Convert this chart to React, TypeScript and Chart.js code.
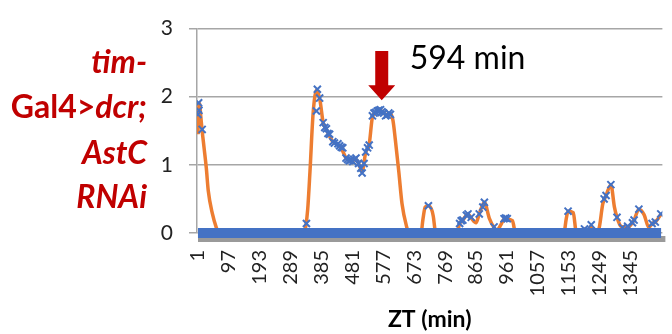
import React, { useEffect, useRef } from "react";
import { Chart, registerables } from "chart.js";

Chart.register(...registerables);

// ZT minutes for the x-axis tick labels
const xTickLabels = [1, 97, 193, 289, 385, 481, 577, 673, 769, 865, 961, 1057, 1153, 1249, 1345];
const yTickLabels = [0, 1, 2, 3];

// Smoothed activity/sleep curve (orange)
const curveMinutes = [
  1, 3, 6, 10, 14, 20, 27, 33, 46, 58, 66,
  330, 336, 342, 349, 359, 370, 380, 390, 400, 410, 420, 436, 446, 461, 476, 492, 502, 511, 522, 533, 543, 553, 568, 584, 599, 607, 614, 625, 635, 650, 656,
  694, 700, 707, 717, 728, 732, 740,
  806, 814, 824, 840, 850, 865, 875, 891, 906, 921, 930, 942, 952, 962, 978, 988,
  1138, 1145, 1151, 1167, 1177,
  1190, 1202, 1213, 1223, 1235, 1246, 1259, 1269, 1284, 1295, 1303, 1315, 1336, 1356, 1371, 1387, 1402, 1412, 1422, 1440,
];
const curveValues = [
  1.45, 1.8, 1.9, 1.7, 1.5, 1.25, 0.95, 0.62, 0.28, 0.08, 0,
  0, 0.1, 0.35, 0.9, 1.77, 2.1, 1.95, 1.62, 1.52, 1.42, 1.34, 1.3, 1.25, 1.1, 1.06, 1.08, 1.0, 0.9, 1.18, 1.3, 1.7, 1.77, 1.8, 1.74, 1.75, 1.65, 1.38, 0.9, 0.43, 0.08, 0,
  0, 0.2, 0.38, 0.4, 0.33, 0.25, 0,
  0, 0.14, 0.19, 0.28, 0.22, 0.15, 0.28, 0.45, 0.22, 0.08, 0.04, 0.12, 0.2, 0.2, 0.18, 0,
  0, 0.2, 0.32, 0.3, 0,
  0, 0.06, 0.04, 0.1, 0.02, 0.05, 0.43, 0.55, 0.71, 0.38, 0.23, 0.1, 0.08, 0.19, 0.35, 0.27, 0.08, 0.14, 0.16, 0.28,
];

// Individual (non-zero) data points shown as blue crosses
const markerMinutes = [
  1, 3, 4, 14, 338, 369, 372, 379, 390, 395, 400, 405, 410, 420, 425, 436, 441, 446, 451, 461, 466, 471, 476, 482, 487, 492, 500, 507, 511, 517, 522, 528, 533,
  543, 548, 553, 558, 563, 568, 573, 578, 584, 589, 594, 599,
  717, 814, 819, 824, 835, 840, 850, 875, 886, 891, 921, 952, 957, 962,
  1151, 1202, 1223, 1263, 1269, 1284, 1303, 1320, 1336, 1351, 1356, 1371, 1412, 1422, 1439,
];
const markerValues = [
  1.74, 1.91, 1.8, 1.52, 0.14, 1.79, 2.11, 1.98, 1.62, 1.55, 1.53, 1.46, 1.45, 1.34, 1.32, 1.31, 1.28, 1.26, 1.25, 1.1, 1.08, 1.06, 1.07, 1.05, 1.08, 1.1, 1.02, 0.95, 0.88, 1.02, 1.19, 1.25, 1.29,
  1.72, 1.76, 1.77, 1.79, 1.8, 1.81, 1.78, 1.76, 1.72, 1.73, 1.76, 1.74,
  0.4, 0.14, 0.18, 0.19, 0.26, 0.28, 0.23, 0.28, 0.38, 0.45, 0.09, 0.21, 0.22, 0.21,
  0.32, 0.06, 0.12, 0.5, 0.55, 0.71, 0.23, 0.08, 0.1, 0.15, 0.19, 0.35, 0.14, 0.16, 0.28,
];

// Zero-valued points form the band along the axis
const zeroBandMinutes = [1, 1440];
const zeroBandValues = [0, 0];

// Annotation
const arrowMinute = 572;
const arrowTopValue = 2.67;
const arrowTipValue = 1.95;
const annotationText = "594 min";

const RED = "#c00000";
const BLUE = "#4472c4";
const ORANGE = "#ed7d31";
const FONT = "Lato, 'Open Sans', sans-serif";

const sidePlugin = {
  id: "sideDecor",
  beforeDatasetsDraw(chart: any) {
    const { ctx, chartArea, scales } = chart;
    const y0 = scales.y.getPixelForValue(0);
    ctx.save();
    ctx.fillStyle = "#9a9a9a";
    ctx.fillRect(chartArea.left + 1, y0 + 3, chartArea.right - chartArea.left + 2, 6);
    ctx.restore();
  },
  afterDraw(chart: any) {
    const { ctx, scales } = chart;
    ctx.save();
    // Arrow
    const ax = scales.x.getPixelForValue(arrowMinute);
    const top = scales.y.getPixelForValue(arrowTopValue);
    const tip = scales.y.getPixelForValue(arrowTipValue);
    const headH = 15;
    ctx.fillStyle = RED;
    ctx.beginPath();
    ctx.moveTo(ax - 6.5, top);
    ctx.lineTo(ax + 6.5, top);
    ctx.lineTo(ax + 6.5, tip - headH);
    ctx.lineTo(ax + 13.5, tip - headH);
    ctx.lineTo(ax, tip);
    ctx.lineTo(ax - 13.5, tip - headH);
    ctx.lineTo(ax - 6.5, tip - headH);
    ctx.closePath();
    ctx.fill();
    // Annotation text
    ctx.fillStyle = "#000";
    ctx.font = `32px ${FONT}`;
    ctx.textBaseline = "middle";
    ctx.textAlign = "left";
    ctx.fillText(annotationText, ax + 28, top + 8);

    // Red side label (mixed italic)
    const lines: [string, boolean][][] = [
      [["tim-", true]],
      [["Gal4>", false], ["dcr;", true]],
      [["AstC", true]],
      [["RNAi", true]],
    ];
    const ys = [63, 108, 154, 198];
    const right = 147;
    ctx.fillStyle = RED;
    ctx.textAlign = "left";
    lines.forEach((parts, i) => {
      let total = 0;
      const widths = parts.map(([t, it]) => {
        ctx.font = `${it ? "italic " : ""}bold 32px ${FONT}`;
        const w = ctx.measureText(t).width;
        total += w;
        return w;
      });
      let x = right - total;
      parts.forEach(([t, it], j) => {
        ctx.font = `${it ? "italic " : ""}bold 32px ${FONT}`;
        ctx.fillText(t, x, ys[i]);
        x += widths[j];
      });
    });
    ctx.restore();
  },
};

export default function App() {
  const ref = useRef<HTMLCanvasElement | null>(null);
  useEffect(() => {
    document.body.style.margin = "0";
    if (!ref.current) return;
    const chart = new Chart(ref.current, {
      type: "line",
      data: {
        datasets: [
          {
            label: "zero",
            data: zeroBandMinutes.map((m, i) => ({ x: m, y: zeroBandValues[i] })),
            borderColor: BLUE,
            borderWidth: 10,
            borderCapStyle: "butt",
            pointRadius: 0,
            clip: 8,
            order: 1,
          },
          {
            label: "markers",
            data: markerMinutes.map((m, i) => ({ x: m, y: markerValues[i] })),
            showLine: false,
            pointStyle: "crossRot",
            pointRadius: 5,
            pointBorderWidth: 2,
            pointBorderColor: BLUE,
            pointBackgroundColor: BLUE,
            order: 2,
          },
          {
            label: "curve",
            data: curveMinutes.map((m, i) => ({ x: m, y: curveValues[i] })),
            borderColor: ORANGE,
            borderWidth: 3.5,
            cubicInterpolationMode: "monotone",
            pointRadius: 0,
            order: 3,
          },
        ],
      },
      options: {
        responsive: false,
        animation: false,
        devicePixelRatio: 1,
        layout: { padding: { top: 24, right: 3, left: 0, bottom: 0 } },
        plugins: { legend: { display: false }, tooltip: { enabled: false } },
        scales: {
          x: {
            type: "linear",
            min: -2,
            max: 1444,
            afterBuildTicks: (s: any) => {
              s.ticks = xTickLabels.map((v) => ({ value: v }));
            },
            afterFit: (s: any) => {
              s.height = 101;
            },
            grid: { display: false, drawTicks: false },
            border: { display: false },
            ticks: {
              autoSkip: false,
              minRotation: 90,
              maxRotation: 90,
              padding: 17,
              color: "#222",
              font: { family: FONT, size: 20 },
              callback: (v: any) => String(v),
            },
            title: {
              display: true,
              text: "ZT (min)",
              color: "#000",
              font: { family: FONT, size: 23, weight: "bold" },
              padding: { top: 0, bottom: 1 },
            },
          },
          y: {
            min: 0,
            max: 3,
            afterBuildTicks: (s: any) => {
              s.ticks = yTickLabels.map((v) => ({ value: v }));
            },
            afterFit: (s: any) => {
              s.width = 197;
            },
            grid: { color: "#a6a6a6", lineWidth: 1.5, drawTicks: true, tickLength: 8 },
            border: { display: true, color: "#a6a6a6", width: 1.5 },
            ticks: {
              padding: 16,
              color: "#222",
              font: { family: FONT, size: 21 },
            },
          },
        },
      },
      plugins: [sidePlugin],
    } as any);
    return () => chart.destroy();
  }, []);
  return (
    <div style={{ width: 672, height: 334 }}>
      <canvas ref={ref} width={672} height={334} />
    </div>
  );
}
